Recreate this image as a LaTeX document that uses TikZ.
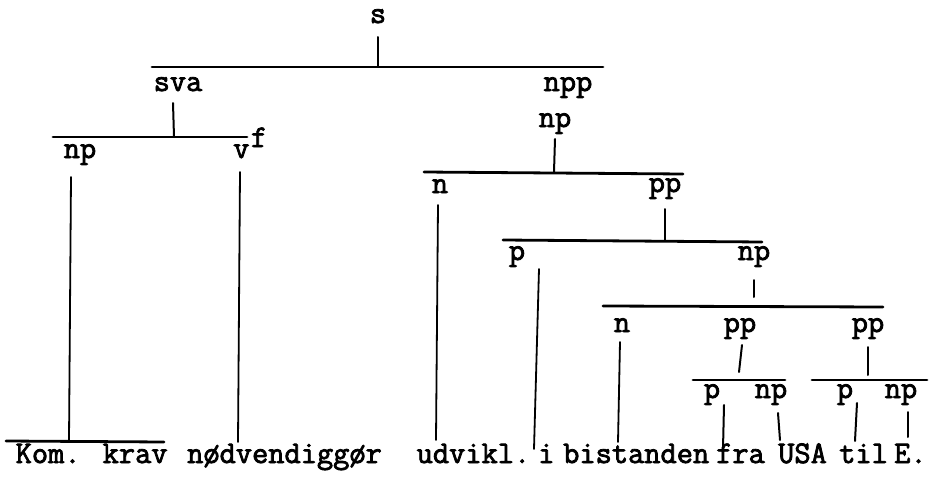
\documentclass[tikz,border=0pt]{standalone}
\usepackage{fontspec}
\newfontfamily\tw{Latin Modern Mono}[FakeBold=2.5]
\begin{document}
\begin{tikzpicture}[x=1pt,y=-1pt,
  lbl/.style={inner sep=0pt, anchor=base, font=\tw\fontsize{31.5}{34}\selectfont},
  wrd/.style={lbl, anchor=base west},
  bar/.style={line width=2.8pt, line cap=round},
  stem/.style={line width=2pt, line cap=round},
  longstem/.style={line width=1.8pt, line cap=round}]
\useasboundingbox (0,0) rectangle (930,477);

% category labels
\node[lbl] (s)   at (378,23)  {s};
\node[lbl] (sva) at (178,91)  {sva};
\node[lbl] (npp) at (568,91)  {npp};
\node[lbl] (np0) at (555,127) {np};
\node[lbl] (npa) at (80,158)  {np};
\node[wrd] (vf)  at (233,158) {v\kern1.5pt\raisebox{11pt}{f}};
\node[lbl] (n1)  at (440,193) {n};
\node[lbl] (pp1) at (665,192) {pp};
\node[lbl] (p1)  at (517,260) {p};
\node[lbl] (np1) at (754,260) {np};
\node[lbl] (n2)  at (622,332) {n};
\node[lbl] (pp2) at (740,332) {pp};
\node[lbl] (pp3) at (868,332) {pp};
\node[lbl] (p2)  at (712,398) {p};
\node[lbl] (np2) at (771,398) {np};
\node[lbl] (p3)  at (845,398) {p};
\node[lbl] (np3) at (901,398) {np};

% the sentence
\node[wrd] (w1)  at (15.5,463) {Kom.};
\node[wrd] (w2)  at (102.5,463) {krav};
\node[wrd] (w3)  at (187,463)   {nødvendiggør};
\node[wrd] (w4)  at (416.5,463) {udvikl.};
\node[wrd] (w5)  at (538,463)   {i};
\node[wrd] (w6)  at (563,463)   {bistanden};
\node[wrd] (w7)  at (716,463)   {fra};
\node[wrd] (w8)  at (778,463)   {USA};
\node[wrd] (w9)  at (839,463)   {til};
\node[wrd] (w10) at (894,463)   {E.};

% bar end points
\coordinate (A1) at (152,67);  \coordinate (A2) at (603,67);
\coordinate (B1) at (53,137);  \coordinate (B2) at (247,137);
\coordinate (K1) at (6,441);   \coordinate (K2) at (164,442);
\coordinate (C1) at (424,172); \coordinate (C2) at (683,174);
\coordinate (D1) at (503,240); \coordinate (D2) at (762,242);
\coordinate (E1) at (603,306); \coordinate (E2) at (883,307);
\coordinate (F1) at (693,380); \coordinate (F2) at (785,380);
\coordinate (G1) at (812,380); \coordinate (G2) at (927,380);

% stem end points
\coordinate (s-t)   at (378,37);  \coordinate (s-b)   at (378,66);
\coordinate (sva-t) at (173,103); \coordinate (sva-b) at (174,137);
\coordinate (npa-t) at (71,177);  \coordinate (npa-b) at (69,441);
\coordinate (vf-t)  at (240,172); \coordinate (vf-b)  at (238,442);
\coordinate (np0-t) at (555,139); \coordinate (np0-b) at (554,172);
\coordinate (n1-t)  at (438,205); \coordinate (n1-b)  at (436,440);
\coordinate (pp1-t) at (665,209); \coordinate (pp1-b) at (665,240);
\coordinate (p1-t)  at (539,269); \coordinate (p1-b)  at (534,449);
\coordinate (np1-t) at (754,280); \coordinate (np1-b) at (754,297);
\coordinate (n2-t)  at (620,342); \coordinate (n2-b)  at (618,442);
\coordinate (pp2-t) at (742,345); \coordinate (pp2-b) at (739,372);
\coordinate (pp3-t) at (868,347); \coordinate (pp3-b) at (868,375);
\coordinate (p2-t)  at (724,405); \coordinate (p2-b)  at (723,449);
\coordinate (np2-t) at (778,413); \coordinate (np2-b) at (780,440);
\coordinate (p3-t)  at (857,403); \coordinate (p3-b)  at (855,441);
\coordinate (np3-t) at (908,412); \coordinate (np3-b) at (908,437);

% horizontal bars
\draw[bar] (A1) -- (A2);
\draw[bar] (B1) -- (B2);
\draw[bar] (K1) -- (K2);
\draw[bar] (C1) -- (C2);
\draw[bar] (D1) -- (D2);
\draw[bar] (E1) -- (E2);
\draw[bar] (F1) -- (F2);
\draw[bar] (G1) -- (G2);

% vertical stems
\draw[stem] (s-t) -- (s-b);
\draw[stem] (sva-t) -- (sva-b);
\draw[longstem] (npa-t) -- (npa-b);
\draw[longstem] (vf-t) -- (vf-b);
\draw[stem] (np0-t) -- (np0-b);
\draw[longstem] (n1-t) -- (n1-b);
\draw[stem] (pp1-t) -- (pp1-b);
\draw[longstem] (p1-t) -- (p1-b);
\draw[stem] (np1-t) -- (np1-b);
\draw[longstem] (n2-t) -- (n2-b);
\draw[stem] (pp2-t) -- (pp2-b);
\draw[stem] (pp3-t) -- (pp3-b);
\draw[stem] (p2-t) -- (p2-b);
\draw[stem] (np2-t) -- (np2-b);
\draw[stem] (p3-t) -- (p3-b);
\draw[stem] (np3-t) -- (np3-b);
\end{tikzpicture}
\end{document}
